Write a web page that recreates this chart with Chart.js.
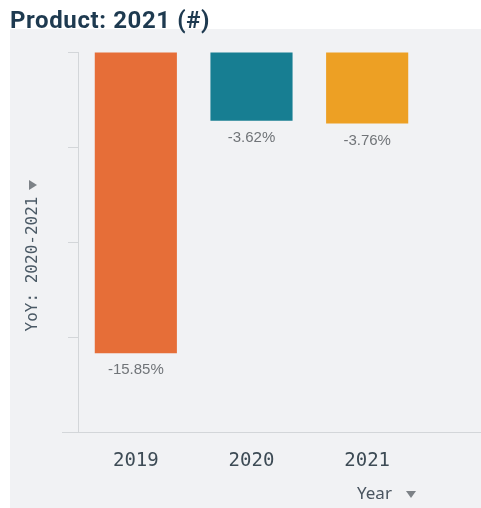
<!DOCTYPE html>
<html>
<head>
<meta charset="utf-8">
<script src="https://cdn.jsdelivr.net/npm/chart.js@4.4.1/dist/chart.umd.min.js"></script>
<style>
  html, body { margin: 0; padding: 0; background: #ffffff; }
  #wrap { width: 481px; height: 508px; }
</style>
</head>
<body>
<div id="wrap"><canvas id="yoyChart" width="481" height="508"></canvas></div>
<script>
// データ
const years = ['2019', '2020', '2021'];
const yoyValues = [-15.85, -3.62, -3.76];
const barColors = ['#e66e38', '#177e92', '#eda024'];
const yTicks = [0, -5, -10, -15, -20];

const titleText = 'Product: 2021 (#)';
const yTitleText = 'YoY: 2020-2021';
const xTitleText = 'Year';

// 背景・タイトル・ラベル描画用プラグイン
const decorPlugin = {
    id: 'decor',
    beforeDraw(chart) {
        const ctx = chart.ctx;
        ctx.save();
        ctx.fillStyle = '#f1f2f4';
        ctx.fillRect(10, 29, chart.width - 10, chart.height - 29);
        ctx.restore();
    },
    afterDatasetsDraw(chart) {
        const ctx = chart.ctx;
        const meta = chart.getDatasetMeta(0);
        ctx.save();
        ctx.font = '15px "Liberation Sans", Arial, sans-serif';
        ctx.fillStyle = '#707478';
        ctx.textAlign = 'center';
        ctx.textBaseline = 'middle';
        meta.data.forEach((bar, i) => {
            ctx.fillText(yoyValues[i].toFixed(2) + '%', bar.x, bar.y + 17);
        });
        ctx.restore();
    },
    afterDraw(chart) {
        const ctx = chart.ctx;
        const yScale = chart.scales.y;
        ctx.save();

        // タイトル
        ctx.font = 'bold 24px Roboto, sans-serif';
        ctx.letterSpacing = '0.6px';
        ctx.fillStyle = '#1e3a50';
        ctx.textAlign = 'left';
        ctx.textBaseline = 'alphabetic';
        ctx.fillText(titleText, 10, 28);
        ctx.letterSpacing = '0px';

        // 下の軸線 (左右に伸ばす)
        const yb = Math.round(yScale.getPixelForValue(-20)) + 0.5;
        ctx.strokeStyle = '#d3d6d9';
        ctx.lineWidth = 1;
        ctx.beginPath();
        ctx.moveTo(62, yb);
        ctx.lineTo(chart.width, yb);
        ctx.stroke();

        // Y軸タイトル (回転)
        ctx.translate(33, 264);
        ctx.rotate(-Math.PI / 2);
        ctx.font = '16px "DejaVu Sans Mono", monospace';
        ctx.fillStyle = '#4a5965';
        ctx.textAlign = 'center';
        ctx.textBaseline = 'middle';
        ctx.fillText(yTitleText, 0, 0);
        ctx.setTransform(1, 0, 0, 1, 0, 0);

        // Y軸タイトルの三角
        ctx.fillStyle = '#7d8287';
        ctx.beginPath();
        ctx.moveTo(29, 180);
        ctx.lineTo(37, 185);
        ctx.lineTo(29, 190);
        ctx.closePath();
        ctx.fill();

        // X軸タイトル
        ctx.font = '17px "Noto Sans", sans-serif';
        ctx.fillStyle = '#4a5560';
        ctx.textAlign = 'left';
        ctx.textBaseline = 'middle';
        ctx.fillText(xTitleText, 357, 494);

        ctx.fillStyle = '#7d8287';
        ctx.beginPath();
        ctx.moveTo(406, 491);
        ctx.lineTo(416, 491);
        ctx.lineTo(411, 498);
        ctx.closePath();
        ctx.fill();

        ctx.restore();
    }
};

const ctx = document.getElementById('yoyChart').getContext('2d');
const yoyChart = new Chart(ctx, {
    type: 'bar',
    data: {
        labels: years,
        datasets: [{
            data: yoyValues,
            backgroundColor: barColors,
            borderWidth: 0,
            categoryPercentage: 1.0,
            barPercentage: 0.71
        }]
    },
    options: {
        responsive: false,
        animation: false,
        layout: {
            padding: { left: 10, right: 56, top: 52, bottom: 0 }
        },
        plugins: {
            legend: { display: false },
            tooltip: { enabled: false }
        },
        scales: {
            x: {
                grid: { display: false },
                border: { display: false },
                ticks: {
                    padding: 10,
                    color: '#3d4b55',
                    font: { family: '"DejaVu Sans Mono", monospace', size: 19 }
                },
                afterFit(scale) { scale.height = 76; }
            },
            y: {
                min: -20,
                max: 0,
                afterBuildTicks(scale) {
                    scale.ticks = yTicks.map(v => ({ value: v }));
                },
                grid: {
                    drawOnChartArea: false,
                    drawTicks: true,
                    tickLength: 10,
                    color: '#d3d6d9'
                },
                border: { color: '#d3d6d9' },
                ticks: { display: false },
                afterFit(scale) { scale.width = 68; }
            }
        }
    },
    plugins: [decorPlugin]
});
</script>
</body>
</html>
